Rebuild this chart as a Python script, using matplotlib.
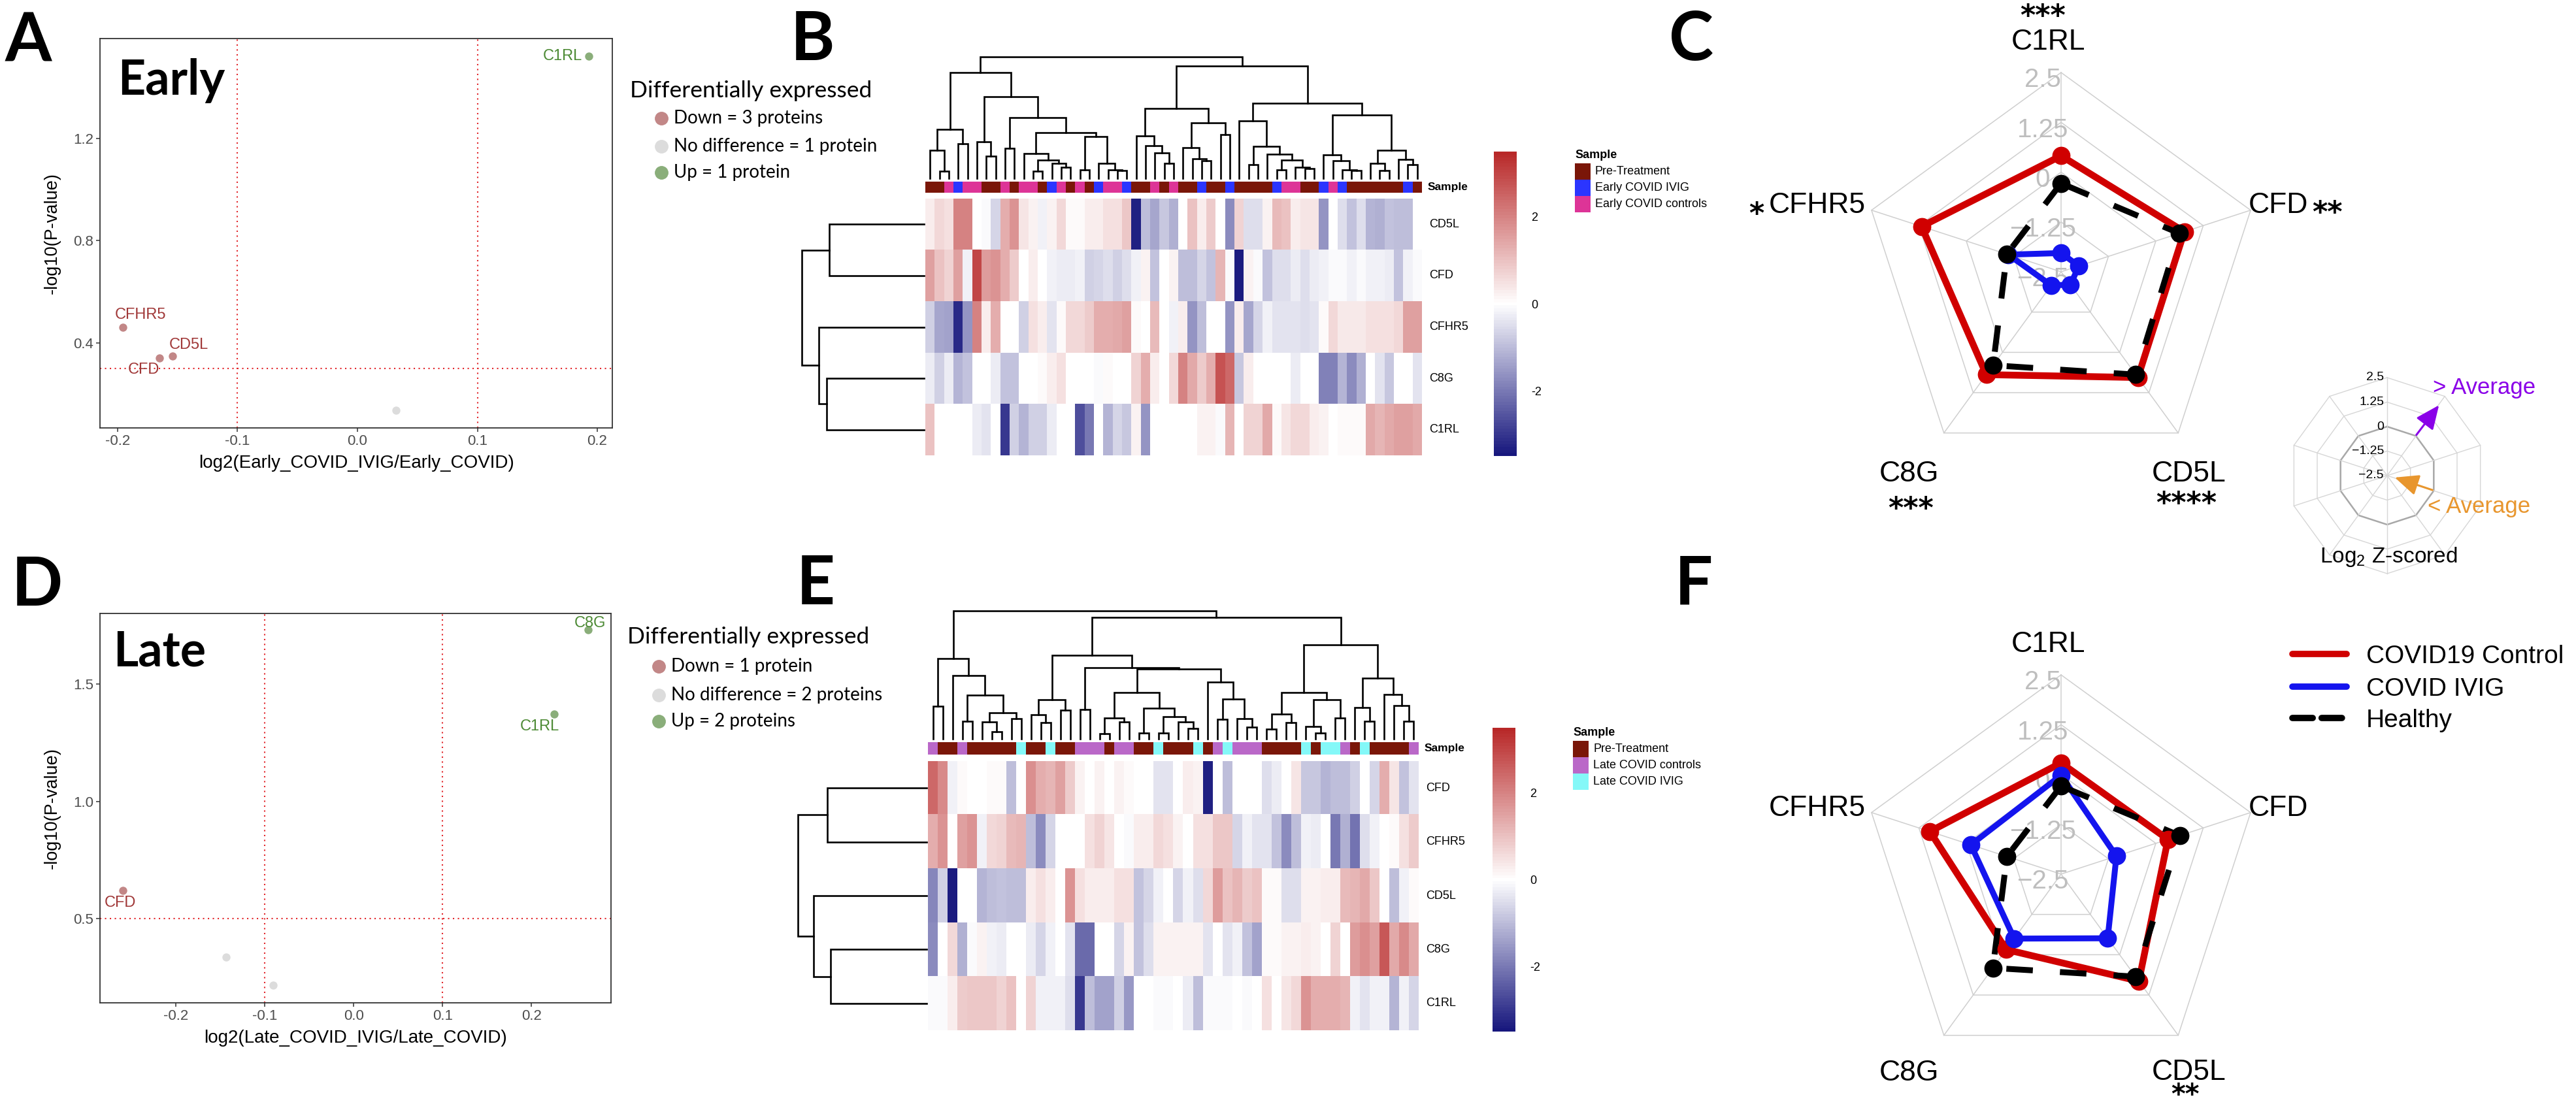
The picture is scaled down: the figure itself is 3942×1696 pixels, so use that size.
import numpy as np
import matplotlib
matplotlib.use("Agg")
import matplotlib.pyplot as plt
import matplotlib.cm as cm
import matplotlib.colors as mcolors
from matplotlib.colors import LinearSegmentedColormap, ListedColormap
from matplotlib.patches import Rectangle, FancyArrowPatch
from matplotlib.lines import Line2D

plt.rcParams['font.family'] = ['Liberation Sans', 'DejaVu Sans']
plt.rcParams['mathtext.fontset'] = 'custom'
plt.rcParams['mathtext.rm'] = 'Liberation Sans'
plt.rcParams['mathtext.it'] = 'Liberation Sans:italic'
plt.rcParams['mathtext.bf'] = 'Liberation Sans:bold'

# ============================ DATA ============================
# Volcano plots
early_genes = ["C1RL", "CFHR5", "CD5L", "CFD", "C8G"]
early_log2fc = [0.193, -0.1955, -0.154, -0.165, 0.032]
early_nlogp = [1.521, 0.462, 0.350, 0.343, 0.137]
early_status = ["Up", "Down", "Down", "Down", "NS"]
early_legend = ["Down = 3 proteins", "No difference = 1 protein", "Up = 1 protein"]

late_genes = ["C8G", "C1RL", "CFD", "CFHR5", "CD5L"]
late_log2fc = [0.2635, 0.2259, -0.2597, -0.1432, -0.0909]
late_nlogp = [1.732, 1.372, 0.619, 0.334, 0.2135]
late_status = ["Up", "Up", "Down", "NS", "NS"]
late_legend = ["Down = 1 protein", "No difference = 2 proteins", "Up = 2 proteins"]

# Heatmap B (early)
early_rows = ["CD5L", "CFD", "CFHR5", "C8G", "C1RL"]
early_CD5L = [0.3, 0.6, 0.5, 2.0, 2.0, 0.0, -0.1, -0.6, 1.3, 1.7,
              0.4, 0.2, -0.2, 0.2, 0.6, 0.1, 0.05, 0.3, 0.3, 0.5,
              0.5, 0.9, -3.3, -1.0, -1.3, -0.8, -1.2, 0.0, 1.0, 0.3,
              0.8, 0.0, -1.7, 0.7, -0.5, -0.5, 0.2, 1.1, 1.0, 0.3,
              0.4, 0.4, -1.6, 0.0, -0.5, -0.9, -0.5, -1.1, -1.2, -0.9,
              -1.0, -1.0, 0.0]
early_CFD = [1.5, 1.0, 0.7, 1.5, -0.2, 3.0, 1.6, 1.7, 1.3, 0.8,
             0.0, 0.3, 0.0, -0.2, -0.3, -0.3, -0.2, -0.7, -0.6, -0.5,
             -0.7, -0.5, -0.2, 0.2, -0.9, 0.0, 0.2, -1.0, -1.0, -0.6,
             -0.9, 1.2, -0.1, -3.4, 0.2, -0.1, -0.9, -0.5, -0.5, -0.3,
             -0.5, -0.3, -0.2, -0.1, -0.1, -0.2, -0.1, -0.2, -0.2, -0.3,
             -0.9, -0.2, -0.1]
early_CFHR5 = [-0.7, -1.3, -1.4, -3.2, -1.6, 2.0, 0.3, 1.3, 0.0, 0.0,
               -0.7, 0.5, 0.3, -0.4, 0.05, 0.6, 0.6, 0.8, 1.3, 1.3,
               1.4, 1.5, 0.05, 0.0, 1.1, 0.0, -0.2, 0.3, -1.6, -1.0,
               0.0, 0.0, -1.6, 0.3, -1.3, -0.6, -0.2, -0.4, -0.4, -0.4,
               -0.5, -0.4, 0.05, 0.6, 0.35, 0.35, 0.35, 0.5, 0.5, 0.5,
               0.6, 1.5, 1.5]
early_C8G = [-0.3, -0.7, -0.3, -1.1, -0.9, 0.0, 0.0, -0.3, -0.9, -0.9,
             0.0, 0.0, 0.05, 0.3, 0.5, 0.0, 0.0, 0.0, -0.1, 0.05,
             0.0, 0.0, 0.7, 1.3, 0.3, 0.0, 0.6, 2.0, 1.4, 0.8,
             1.3, 2.8, 2.4, -0.8, 0.3, 0.0, 0.0, 0.0, 0.0, -0.3,
             0.0, 0.0, -1.9, -1.9, -1.1, -1.7, -1.2, 0.0, -0.4, -0.8,
             0.0, 0.0, -0.4]
early_C1RL = [1.0, 0.0, 0.0, 0.0, 0.0, -0.3, -0.4, 0.0, -3.0, -0.7,
              -1.1, -0.7, -0.7, -0.3, 0.0, 0.0, -2.6, -2.0, 0.0, -1.1,
              -0.6, -0.8, 0.2, -1.6, 0.0, 0.0, 0.0, 0.0, 0.0, 0.2,
              0.2, -0.1, 1.2, 0.0, 0.7, 0.7, 1.4, 0.1, 0.4, 0.6,
              0.6, 0.3, 0.2, 0.0, 0.05, 0.05, 0.1, 1.4, 1.2, 1.4,
              1.5, 1.5, 1.4]
early_samples = "PPCICCPPCPCCPICPCPICCIPPCPCPPIPPIPPPPICCPPICIPPPPPPIP"
early_sample_codes = ["P", "I", "C"]
early_sample_names = ["Pre-Treatment", "Early COVID IVIG", "Early COVID controls"]
early_sample_colors = ["#7A1608", "#2B35FF", "#DD3497"]
early_col_tree = [5.60,
                  [4.88,
                   [2.25, [1.28, 0, [0.33, 1, 2]], [1.60, 3, 4]],
                   [3.75, [1.70, 5, [1.03, 6, 7]],
                    [2.80, [1.40, 8, 9],
                     [2.10,
                      [1.15, 10, [0.85, [0.32, 11, 12], [0.68, 13, [0.50, 14, 15]]]],
                      [1.92, [0.40, 16, 17], [0.68, 18, [0.40, 19, [0.35, 20, 21]]]]]]]],
                  [5.18,
                   [3.23,
                    [1.95, 22, [1.50, 23, [1.17, 24, [0.68, 25, 26]]]],
                    [2.55, [1.42, 27, [0.90, 28, [0.80, 29, 30]]], [2.02, 31, 32]]],
                   [3.45,
                    [2.65, 33, [1.48, [0.62, 34, 35],
                                [1.10, 36, [0.83, [0.40, 37, 38], [0.52, 39, [0.45, 40, 41]]]]]],
                    [2.92, [1.07, 42, [0.80, 43, [0.40, 44, [0.35, 45, 46]]]],
                     [1.28, [0.68, 47, [0.35, 48, 49]], [0.88, 50, [0.63, 51, 52]]]]]]]
early_row_tree = [1.98, [1.54, 0, 1], [1.71, 2, [1.58, 3, 4]]]

# Heatmap E (late)
late_rows = ["CFD", "CFHR5", "CD5L", "C8G", "C1RL"]
late_CFD = [2.4, 1.9, -0.2, 0.05, 0.0, 0.0, 0.05, 0.05, -1.0, 0.0,
            1.8, 1.3, 1.2, 1.5, 0.8, 0.2, 0.0, 0.2, 0.0, 0.2,
            0.05, 0.0, 0.0, -0.4, -0.4, 0.0, 0.3, 0.2, -3.3, 0.0,
            -1.0, 0.0, 0.0, 0.0, -0.5, -0.3, 0.0, 0.4, -0.8, -0.8,
            -1.1, -1.0, -1.0, -0.7, 0.0, -0.6, 1.3, 0.4, -0.9, -0.4]
late_CFHR5 = [1.3, 1.7, 0.0, 1.5, 1.7, -0.2, 0.6, 0.7, 1.1, 1.2,
              -1.0, -1.7, -0.6, 0.0, 0.0, 0.0, 0.5, 0.7, 0.4, 0.0,
              -0.1, 0.3, 0.3, 0.6, 0.5, 0.2, 0.0, 0.5, 0.5, 0.9,
              0.9, -0.6, -0.2, -0.4, -0.4, -0.9, -1.7, -1.0, -0.2, -0.3,
              0.0, -2.0, -1.2, -2.1, -0.5, -0.2, 0.0, 0.05, 0.5, 0.8]
late_CD5L = [-1.8, -0.7, -3.4, 0.0, 0.0, -1.1, -1.0, -0.9, -1.0, -1.0,
             0.3, 0.5, 0.3, 0.0, 1.7, 0.5, 0.3, 0.3, 0.3, 0.5,
             0.5, -0.9, -0.6, -0.2, 0.0, -0.6, -0.2, -0.5, 0.6, 1.6,
             1.0, 1.2, 0.8, 1.0, 0.1, 0.1, -0.5, -0.5, 0.2, 0.2,
             0.3, 0.3, 1.1, 1.2, 1.4, 0.9, 0.0, -1.0, -0.2, 0.1]
late_C8G = [-1.7, 0.0, 0.6, -1.2, -0.1, 0.2, -0.2, -0.3, 0.0, 0.0,
            -0.3, -0.6, -0.2, 0.0, -0.4, -2.2, -2.2, 0.0, 0.0, -0.6,
            0.2, -0.9, -0.5, 0.2, 0.2, 0.2, 0.2, 0.2, -0.4, 0.0,
            -0.4, -0.2, -0.9, -1.4, 0.1, 0.1, 0.2, 0.2, 0.3, 0.2,
            0.0, 0.7, 0.0, 1.6, 1.8, 1.5, 2.7, 1.4, 1.9, 1.4]
late_C1RL = [-0.1, -0.1, 0.3, 0.8, 0.9, 0.9, 0.9, 0.7, 1.0, 0.0,
             0.7, -0.2, -0.2, -0.2, -0.5, -3.0, -1.0, -1.4, -1.4, -0.7,
             -1.5, 0.0, 0.0, -0.1, -0.1, 0.0, -0.3, -1.0, -0.1, -0.1,
             -0.1, 0.0, -0.1, 0.0, 0.5, 0.0, 0.4, 0.6, 1.7, 1.3,
             1.3, 1.3, 1.2, -0.2, -0.4, -0.2, -0.2, -1.1, -0.2, -0.6]
late_samples = "CPPCPPPPPIPPIPPCCCPCCPPIPPPIPCICCCPPPPIPIICPIPPPPC"
late_sample_codes = ["P", "C", "I"]
late_sample_names = ["Pre-Treatment", "Late COVID controls", "Late COVID IVIG"]
late_sample_colors = ["#7A1608", "#BA68C8", "#84F8F8"]
late_col_tree = [5.88,
                 [3.68, [1.50, 0, 1],
                  [2.90, 2, [2.00, [0.82, 3, 4],
                             [1.20, [0.77, 5, [0.32, 6, 7]], [0.93, 8, 9]]]]],
                 [5.58,
                  [3.85,
                   [1.80, [1.12, 10, [0.75, 11, 12]], [1.32, 13, 14]],
                   [3.27, [1.35, 15, 16],
                    [3.20,
                     [2.12, [0.97, [0.25, 17, 18], [0.77, 19, 20]],
                      [1.42, [0.27, 21, 22], [1.02, [0.27, 23, 24], [0.77, 25, [0.47, 26, 27]]]]],
                     [2.60, 28, [1.83, [0.90, 29, 30], [0.93, 31, [0.53, 32, 33]]]]]]],
                  [4.32,
                   [2.12, [1.13, [0.45, 34, 35], [0.75, 36, 37]],
                    [1.80, [0.58, 38, [0.27, 39, 40]], [0.97, 41, 42]]],
                   [2.78, [1.43, 43, [0.80, 44, 45]],
                    [2.05, 46, [1.52, 47, [0.80, 48, 49]]]]]]]
late_row_tree = [2.08, [1.60, 0, 1], [1.83, 2, [1.55, 3, 4]]]

# Radar charts
radar_axes = ["C1RL", "CFHR5", "C8G", "CD5L", "CFD"]
radar_levels = [-2.5, -1.25, 0, 1.25, 2.5]
radar_series = ["COVID19 Control", "COVID IVIG", "Healthy"]
early_control = [0.41, 1.18, 0.69, 0.78, 0.75]
early_ivig = [-2.03, -1.11, -2.08, -2.10, -2.03]
early_healthy = [-0.28, -1.07, 0.40, 0.69, 0.62]
late_control = [0.29, 0.96, -0.16, 0.82, 0.32]
late_ivig = [-0.02, -0.12, -0.50, -0.51, -1.04]
late_healthy = [-0.29, -1.07, 0.41, 0.68, 0.63]
early_stars = {"C1RL": "***", "CFD": "**", "CFHR5": "*", "C8G": "***", "CD5L": "****"}
late_stars = {"CD5L": "**"}
key_levels = [2.5, 1.25, 0, -1.25, -2.5]

# ============================ LAYOUT ============================
W, H, DPI = 3942, 1696, 100
PT = 72.0 / DPI
fig = plt.figure(figsize=(W / DPI, H / DPI), dpi=DPI)
fig.patch.set_facecolor("white")
LATO = ['Lato', 'DejaVu Sans']


def rect(l, t, r, b):
    return [l / W, 1 - b / H, (r - l) / W, (b - t) / H]


def fx(x):
    return x / W


def fy(y):
    return 1 - y / H


def fmt_level(v):
    s = ("%g" % v)
    return s.replace("-", "\u2212")


# panel letters (baseline positions)
for letter, x, yb in [("A", 8, 94), ("B", 1210, 92), ("C", 2554, 92),
                      ("D", 18, 927), ("E", 1219, 925), ("F", 2563, 925)]:
    fig.text(fx(x), fy(yb), letter, fontsize=74, fontweight='bold', family=LATO,
             ha='left', va='baseline')

# ============================ VOLCANO ============================
DOWN_C, NS_C, UP_C = "#C28787", "#DCDCDC", "#8AAE7A"
DOWN_T, UP_T = "#A03838", "#4C8A34"


def volcano(box, xs, ys, status, genes, xlim, ylim, yticks, pthr, xlabel,
            offsets, title, title_xy, legend_labels, leg_title_y, leg_item_ys, leg_x):
    ax = fig.add_axes(rect(*box))
    ax.patch.set_alpha(0)
    cols = {"Down": DOWN_C, "NS": NS_C, "Up": UP_C}
    for st in ["NS", "Down", "Up"]:
        idx = [i for i, s in enumerate(status) if s == st]
        ax.scatter([xs[i] for i in idx], [ys[i] for i in idx], s=80, color=cols[st],
                   lw=0, zorder=3)
    for v in (-0.1, 0.1):
        ax.axvline(v, color="#E3262B", ls=(0, (1, 2.6)), lw=1.5, zorder=2)
    ax.axhline(pthr, color="#E3262B", ls=(0, (1, 2.6)), lw=1.5, zorder=2)
    for i, g in enumerate(genes):
        if status[i] == "NS":
            continue
        dx, dy, ha = offsets[g]
        ax.annotate(g, (xs[i], ys[i]), xytext=(dx * PT, dy * PT), textcoords='offset points',
                    ha=ha, va='center', fontsize=17,
                    color=DOWN_T if status[i] == "Down" else UP_T, zorder=4)
    ax.set_xlim(*xlim)
    ax.set_ylim(*ylim)
    ax.set_xticks([-0.2, -0.1, 0.0, 0.1, 0.2])
    ax.set_xticklabels(["-0.2", "-0.1", "0.0", "0.1", "0.2"])
    ax.set_yticks(yticks)
    ax.set_yticklabels(["%.1f" % t for t in yticks])
    for sp in ax.spines.values():
        sp.set_color("#333333")
        sp.set_linewidth(1.3)
    ax.tick_params(direction='out', length=4, width=1.1, color="#333333",
                   labelcolor="#4D4D4D", labelsize=16, pad=3)
    bw = box[2] - box[0]
    bh = box[3] - box[1]
    ax.text(0.5, -54.0 / bh, xlabel, transform=ax.transAxes, ha='center', va='center',
            fontsize=20, color='black')
    ax.text(-73.0 / bw, 0.5, "-log10(P-value)", transform=ax.transAxes, ha='center',
            va='center', rotation=90, fontsize=19.5, color='black')
    fig.text(fx(title_xy[0]), fy(title_xy[1]), title, fontsize=53, fontweight='bold',
             family=LATO, ha='left', va='baseline')
    fig.text(fx(leg_x), fy(leg_title_y), "Differentially expressed", fontsize=25.5,
             family=LATO, ha='left', va='center')
    for lab, yy, c in zip(legend_labels, leg_item_ys, [DOWN_C, NS_C, UP_C]):
        fig.add_artist(Line2D([fx(leg_x + 48)], [fy(yy)], marker='o', ms=14, color=c,
                              ls='none', transform=fig.transFigure))
        fig.text(fx(leg_x + 67), fy(yy), lab, fontsize=20, family=LATO, ha='left', va='center')


volcano((153, 59, 937, 655), early_log2fc, early_nlogp, early_status, early_genes,
        (-0.2147, 0.2125), (0.069, 1.5895), [0.4, 0.8, 1.2], -np.log10(0.5),
        "log2(Early_COVID_IVIG/Early_COVID)",
        {"C1RL": (-10, 0, 'right'), "CFHR5": (27, 19, 'center'),
         "CD5L": (24, 17, 'center'), "CFD": (-24, -18, 'center')},
        "Early", (180, 145), early_legend, 139, [181, 224, 264], 964)

volcano((153, 939, 935, 1535), late_log2fc, late_nlogp, late_status, late_genes,
        (-0.2855, 0.2896), (0.1385, 1.803), [0.5, 1.0, 1.5], 0.5,
        "log2(Late_COVID_IVIG/Late_COVID)",
        {"C8G": (3, 10, 'center'), "C1RL": (-23, -19, 'center'), "CFD": (-4, -19.5, 'center')},
        "Late", (173, 1020), late_legend, 975, [1020, 1064, 1104], 960)

# ============================ HEATMAPS ============================
HM_CMAP = LinearSegmentedColormap.from_list("nwr", ["#17177D", "#FFFFFF", "#B82828"], N=101)


def draw_tree(ax, node, orient):
    if isinstance(node, int):
        return float(node), 0.0
    h, a, b = node
    pa, ha = draw_tree(ax, a, orient)
    pb, hb = draw_tree(ax, b, orient)
    ps = [pa, pa, pb, pb]
    hs = [ha, h, h, hb]
    if orient == 'top':
        ax.plot(ps, hs, color='black', lw=1.9, clip_on=False, solid_joinstyle='miter')
    else:
        ax.plot(hs, ps, color='black', lw=1.9, clip_on=False, solid_joinstyle='miter')
    return (pa + pb) / 2.0, h


def heatmap(rows, data, samples, codes, names, colors, col_tree, row_tree,
            hm_box, ann_box, cd_box, rd_box, cb_box, leg_x, leg_y):
    mat = np.array(data, dtype=float)
    nrow, ncol = mat.shape
    ax = fig.add_axes(rect(*hm_box))
    ax.imshow(mat, cmap=HM_CMAP, vmin=-3.5, vmax=3.5, aspect='auto', interpolation='nearest')
    ax.set_axis_off()
    for i, r in enumerate(rows):
        ax.annotate(r, xy=(1, i), xycoords=('axes fraction', 'data'), xytext=(11 * PT, 0),
                    textcoords='offset points', ha='left', va='center', fontsize=13)
    # annotation bar
    axa = fig.add_axes(rect(*ann_box))
    idx = np.array([[codes.index(c) for c in samples]])
    axa.imshow(idx, cmap=ListedColormap(colors), vmin=-0.5, vmax=len(colors) - 0.5,
               aspect='auto', interpolation='nearest')
    axa.set_axis_off()
    axa.annotate("Sample", xy=(1, 0.5), xycoords='axes fraction', xytext=(9 * PT, 0),
                 textcoords='offset points', ha='left', va='center', fontsize=12.5,
                 fontweight='bold')
    # column dendrogram
    axd = fig.add_axes(rect(*cd_box))
    draw_tree(axd, col_tree, 'top')
    axd.set_xlim(-0.5, ncol - 0.5)
    axd.set_ylim(0, col_tree[0])
    axd.set_axis_off()
    # row dendrogram
    axr = fig.add_axes(rect(*rd_box))
    draw_tree(axr, row_tree, 'left')
    axr.set_ylim(nrow - 0.5, -0.5)
    axr.set_xlim(row_tree[0], 0)
    axr.set_axis_off()
    # colorbar
    cax = fig.add_axes(rect(*cb_box))
    sm = cm.ScalarMappable(norm=mcolors.Normalize(-3.5, 3.5), cmap=HM_CMAP)
    cb = fig.colorbar(sm, cax=cax, ticks=[-2, 0, 2])
    cb.outline.set_visible(False)
    cb.ax.set_yticklabels(["-2", "0", "2"])
    cax.tick_params(length=0, pad=16, labelsize=13)
    # legend
    fig.text(fx(leg_x), fy(leg_y), "Sample", fontsize=13, fontweight='bold',
             ha='left', va='center')
    for k, (nm, c) in enumerate(zip(names, colors)):
        top = leg_y + 13 + k * 25
        fig.add_artist(Rectangle((fx(leg_x), fy(top + 25)), 24.0 / W, 25.0 / H,
                                 transform=fig.transFigure, facecolor=c, edgecolor='none'))
        fig.text(fx(leg_x + 31), fy(top + 12.5), nm, fontsize=13, ha='left', va='center')


heatmap(early_rows, [early_CD5L, early_CFD, early_CFHR5, early_C8G, early_C1RL],
        early_samples, early_sample_codes, early_sample_names, early_sample_colors,
        early_col_tree, early_row_tree,
        (1416, 304, 2176, 697), (1416, 278, 2176, 295), (1416, 87, 2176, 273),
        (1227, 304, 1414, 697), (2286, 232, 2321, 698), 2410, 237)

heatmap(late_rows, [late_CFD, late_CFHR5, late_CD5L, late_C8G, late_C1RL],
        late_samples, late_sample_codes, late_sample_names, late_sample_colors,
        late_col_tree, late_row_tree,
        (1420, 1165, 2171, 1577), (1420, 1136, 2171, 1155), (1420, 935, 2171, 1131),
        (1221, 1165, 1418, 1577), (2284, 1114, 2319, 1579), 2407, 1121)

# ============================ RADAR ============================
RED, BLUE, BLACK = "#D00000", "#1414EE", "#000000"


def radar(cx, cy, R, control, ivig, healthy, stars, label_pos, star_pos, star_fs):
    half = 480
    ax = fig.add_axes(rect(cx - half, cy - half, cx + half, cy + half))
    ax.set_xlim(-half / R, half / R)
    ax.set_ylim(-half / R, half / R)
    ax.set_axis_off()
    n = len(radar_axes)
    th = np.pi / 2 + 2 * np.pi * np.arange(n) / n
    lo, hi = radar_levels[0], radar_levels[-1]
    for lev in radar_levels[1:]:
        r = (lev - lo) / (hi - lo)
        ax.plot(np.r_[r * np.cos(th), r * np.cos(th[0])], np.r_[r * np.sin(th), r * np.sin(th[0])],
                color="#CFCFCF", lw=1.1, zorder=1)
    for t in th:
        ax.plot([0, np.cos(t)], [0, np.sin(t)], color="#CFCFCF", lw=1.1, zorder=1)
    fs = 29
    cap = 0.716 * fs / PT
    for lev in radar_levels:
        r = (lev - lo) / (hi - lo)
        ax.text(-28.0 / R, r - (8 + cap / 2) / R, fmt_level(lev), ha='center', va='baseline',
                color="#BEBEBE", fontsize=fs, zorder=2)
    for vals, col, ls, lw in [(control, RED, '-', 7.5), (ivig, BLUE, '-', 6.5),
                              (healthy, BLACK, (0, (4.5, 4.6)), 6.5)]:
        r = (np.array(vals) - lo) / (hi - lo)
        x = r * np.cos(th)
        y = r * np.sin(th)
        ax.plot(np.r_[x, x[0]], np.r_[y, y[0]], color=col, lw=lw, ls=ls, zorder=3,
                solid_joinstyle='round', dash_capstyle='butt', clip_on=False)
        ax.plot(x, y, 'o', color=col, ms=19, zorder=4, clip_on=False)
    fs = 32
    cap = 0.716 * fs / PT
    for name in radar_axes:
        dx, dy, ha = label_pos[name]
        ax.text(dx / R, (dy - cap / 2) / R, name, ha=ha, va='baseline', fontsize=fs, zorder=5)
    for name, s in stars.items():
        dx, dy = star_pos[name]
        ax.text(dx / R, (dy - 0.57 * star_fs / PT) / R, s, ha='center', va='baseline',
                fontsize=star_fs, fontweight='bold', family=['DejaVu Sans'], zorder=5)


radar(3154, 416, 305, early_control, early_ivig, early_healthy, early_stars,
      {"C1RL": (-20, 356, 'center'), "CFHR5": (-299, 106, 'right'),
       "CFD": (287, 106, 'left'), "C8G": (-232, -305, 'center'),
       "CD5L": (196, -305, 'center')},
      {"C1RL": (-28, 403), "CFD": (407, 102), "CFHR5": (-466, 100),
       "C8G": (-230, -351), "CD5L": (192, -343)}, 32)
radar(3154, 1338, 305, late_control, late_ivig, late_healthy, late_stars,
      {"C1RL": (-20, 356, 'center'), "CFHR5": (-299, 105, 'right'),
       "CFD": (287, 105, 'left'), "C8G": (-232, -300, 'center'),
       "CD5L": (196, -299, 'center')},
      {"CD5L": (190, -327)}, 30)

# legend of F
for name, col, ls, yy in [(radar_series[0], RED, '-', 1001), (radar_series[1], BLUE, '-', 1051),
                          (radar_series[2], BLACK, (0, (3.2, 1.4)), 1099)]:
    fig.add_artist(Line2D([fx(3508), fx(3591)], [fy(yy), fy(yy)], color=col, lw=7, ls=ls,
                          solid_capstyle='round', dash_capstyle='round',
                          transform=fig.transFigure))
    fig.text(fx(3621), fy(yy + 0.716 * 28 / PT / 2), name, fontsize=28, ha='left', va='baseline')

# key radar (Log2 Z-scored)
kcx, kcy, kr = 3653, 728, 150
kax = fig.add_axes(rect(kcx - 240, kcy - 240, kcx + 240, kcy + 240))
kax.set_xlim(-240, 240)
kax.set_ylim(-240, 240)
kax.set_axis_off()
kth = np.pi / 2 + 2 * np.pi * np.arange(10) / 10
for lev in key_levels[:-1]:
    r = kr * (lev - key_levels[-1]) / (key_levels[0] - key_levels[-1])
    dark = (lev == 0)
    kax.plot(np.r_[r * np.cos(kth), r * np.cos(kth[0])], np.r_[r * np.sin(kth), r * np.sin(kth[0])],
             color="#A8A8A8" if dark else "#D6D6D6", lw=1.8 if dark else 1.0, zorder=1)
for t in kth:
    kax.plot([0, kr * np.cos(t)], [0, kr * np.sin(t)], color="#D6D6D6", lw=1.0, zorder=1)
for lev in key_levels:
    r = kr * (lev - key_levels[-1]) / (key_levels[0] - key_levels[-1])
    kax.text(-5, r, fmt_level(lev), ha='right', va='center', fontsize=14, zorder=2)
kax.add_patch(FancyArrowPatch((43, 60), (81, 110), arrowstyle='-|>,head_length=0.75,head_width=0.33',
                              mutation_scale=30, color="#8A00E8", lw=2.2, zorder=3))
kax.add_patch(FancyArrowPatch((72, -23), (9, -2), arrowstyle='-|>,head_length=0.75,head_width=0.33',
                              mutation_scale=30, color="#E8962E", lw=2.2, zorder=3))
kax.text(70, 135, "> Average", color="#8A00E8", fontsize=25, ha='left', va='center', zorder=4)
kax.text(62, -48, "< Average", color="#E8962E", fontsize=25, ha='left', va='center', zorder=4)
kax.text(-103, -125, "Log$_{2}$ Z-scored", color="black", fontsize=24, ha='left', va='center',
         zorder=4)

fig.savefig("out.png", dpi=DPI, facecolor="white")
